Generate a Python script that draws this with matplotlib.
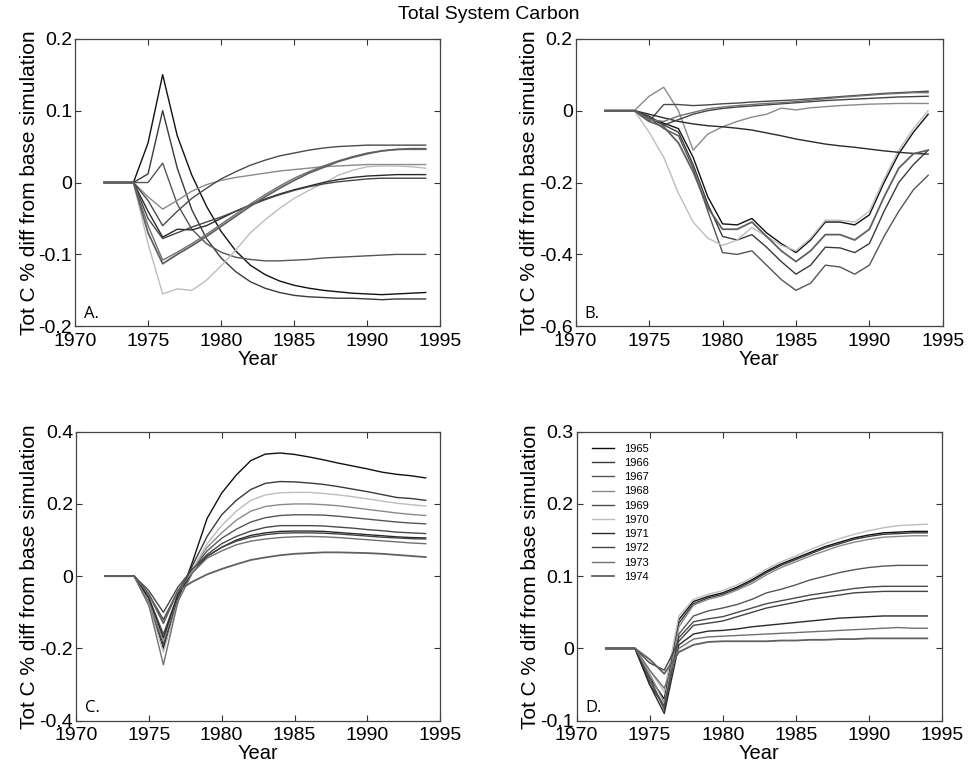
import matplotlib
matplotlib.use("Agg")
import matplotlib.pyplot as plt
from matplotlib.ticker import FuncFormatter

plt.rcParams['font.family'] = ['Liberation Sans', 'DejaVu Sans']
plt.rcParams['axes.unicode_minus'] = False

# ------------------------------
# Data
# ------------------------------
years = list(range(1972, 1995))
run_labels = ['1965', '1966', '1967', '1968', '1969', '1970', '1971', '1972', '1973', '1974']
run_colors = ['#111111', '#3a3a3a', '#555555', '#8a8a8a', '#4a4a4a',
              '#bdbdbd', '#2a2a2a', '#444444', '#707070', '#606060']

panel_a = [
    [0, 0, 0, 0.055, 0.15, 0.065, 0.01, -0.033, -0.068, -0.095, -0.115, -0.128, -0.137, -0.143, -0.147, -0.15, -0.152, -0.154, -0.155, -0.156, -0.155, -0.154, -0.153],
    [0, 0, 0, 0.012, 0.1, 0.02, -0.038, -0.078, -0.105, -0.124, -0.138, -0.147, -0.153, -0.157, -0.159, -0.16, -0.161, -0.161, -0.162, -0.163, -0.162, -0.162, -0.162],
    [0, 0, 0, 0.0, 0.027, -0.03, -0.065, -0.085, -0.097, -0.104, -0.107, -0.109, -0.109, -0.108, -0.107, -0.105, -0.104, -0.103, -0.102, -0.101, -0.1, -0.1, -0.1],
    [0, 0, 0, -0.02, -0.037, -0.025, -0.012, -0.003, 0.003, 0.007, 0.01, 0.013, 0.016, 0.018, 0.02, 0.022, 0.023, 0.024, 0.025, 0.025, 0.025, 0.025, 0.025],
    [0, 0, 0, -0.025, -0.06, -0.04, -0.022, -0.008, 0.005, 0.015, 0.024, 0.031, 0.037, 0.041, 0.045, 0.048, 0.05, 0.051, 0.052, 0.052, 0.052, 0.052, 0.052],
    [0, 0, 0, -0.085, -0.155, -0.148, -0.15, -0.136, -0.116, -0.094, -0.07, -0.052, -0.036, -0.022, -0.011, -0.001, 0.01, 0.017, 0.022, 0.023, 0.023, 0.022, 0.02],
    [0, 0, 0, -0.04, -0.076, -0.065, -0.066, -0.06, -0.05, -0.04, -0.031, -0.023, -0.016, -0.01, -0.005, 0.0, 0.004, 0.007, 0.009, 0.01, 0.011, 0.011, 0.011],
    [0, 0, 0, -0.05, -0.078, -0.07, -0.062, -0.055, -0.048, -0.04, -0.032, -0.024, -0.017, -0.011, -0.006, -0.002, 0.001, 0.003, 0.005, 0.006, 0.006, 0.006, 0.006],
    [0, 0, 0, -0.06, -0.108, -0.097, -0.085, -0.072, -0.058, -0.044, -0.03, -0.017, -0.005, 0.006, 0.015, 0.023, 0.03, 0.036, 0.041, 0.044, 0.046, 0.046, 0.046],
    [0, 0, 0, -0.07, -0.113, -0.1, -0.088, -0.075, -0.061, -0.047, -0.033, -0.02, -0.008, 0.003, 0.013, 0.021, 0.029, 0.035, 0.04, 0.044, 0.046, 0.047, 0.047],
]

panel_b = [
    [0, 0, 0, -0.02, -0.035, -0.05, -0.13, -0.24, -0.315, -0.318, -0.3, -0.34, -0.37, -0.395, -0.36, -0.31, -0.31, -0.318, -0.29, -0.2, -0.12, -0.06, -0.01],
    [0, 0, 0, -0.02, -0.04, -0.06, -0.15, -0.26, -0.35, -0.36, -0.345, -0.38, -0.42, -0.455, -0.43, -0.38, -0.382, -0.395, -0.37, -0.28, -0.2, -0.15, -0.11],
    [0, 0, 0, -0.02, -0.05, -0.07, -0.16, -0.28, -0.395, -0.4, -0.39, -0.43, -0.47, -0.5, -0.48, -0.43, -0.435, -0.455, -0.43, -0.35, -0.28, -0.22, -0.18],
    [0, 0, 0, 0.04, 0.065, 0.0, -0.11, -0.065, -0.045, -0.03, -0.018, -0.01, 0.007, 0.002, 0.008, 0.011, 0.014, 0.016, 0.018, 0.019, 0.02, 0.02, 0.02],
    [0, 0, 0, -0.03, 0.017, 0.017, 0.014, 0.016, 0.019, 0.021, 0.024, 0.026, 0.028, 0.03, 0.033, 0.036, 0.039, 0.042, 0.045, 0.048, 0.05, 0.052, 0.054],
    [0, 0, 0, -0.06, -0.13, -0.23, -0.31, -0.355, -0.375, -0.36, -0.325, -0.35, -0.375, -0.39, -0.355, -0.305, -0.305, -0.31, -0.28, -0.19, -0.11, -0.05, 0.0],
    [0, 0, 0, -0.01, -0.02, -0.03, -0.037, -0.042, -0.045, -0.049, -0.054, -0.062, -0.07, -0.079, -0.086, -0.093, -0.098, -0.102, -0.107, -0.112, -0.116, -0.119, -0.121],
    [0, 0, 0, -0.015, -0.04, -0.025, -0.01, 0.0, 0.006, 0.01, 0.013, 0.016, 0.019, 0.022, 0.025, 0.028, 0.03, 0.032, 0.034, 0.036, 0.038, 0.039, 0.04],
    [0, 0, 0, -0.025, -0.03, -0.015, -0.005, 0.005, 0.01, 0.014, 0.017, 0.02, 0.022, 0.025, 0.029, 0.033, 0.037, 0.04, 0.043, 0.046, 0.048, 0.05, 0.05],
    [0, 0, 0, -0.03, -0.045, -0.09, -0.17, -0.27, -0.33, -0.33, -0.31, -0.35, -0.39, -0.42, -0.39, -0.345, -0.345, -0.36, -0.33, -0.24, -0.16, -0.12, -0.11],
]

panel_c = [
    [0, 0, 0, -0.08, -0.2, -0.07, 0.04, 0.16, 0.23, 0.28, 0.32, 0.338, 0.341, 0.337, 0.33, 0.322, 0.313, 0.305, 0.297, 0.288, 0.282, 0.278, 0.272],
    [0, 0, 0, -0.07, -0.19, -0.06, 0.03, 0.11, 0.17, 0.21, 0.24, 0.257, 0.262, 0.261, 0.258, 0.254, 0.248, 0.241, 0.234, 0.226, 0.218, 0.215, 0.21],
    [0, 0, 0, -0.06, -0.16, -0.05, 0.02, 0.07, 0.105, 0.13, 0.15, 0.162, 0.168, 0.17, 0.17, 0.169, 0.166, 0.162, 0.158, 0.154, 0.15, 0.147, 0.145],
    [0, 0, 0, -0.07, -0.18, -0.05, 0.02, 0.08, 0.12, 0.155, 0.18, 0.193, 0.198, 0.2, 0.2, 0.198, 0.195, 0.19, 0.185, 0.18, 0.175, 0.171, 0.168],
    [0, 0, 0, -0.05, -0.12, -0.04, 0.02, 0.06, 0.09, 0.11, 0.125, 0.135, 0.14, 0.14, 0.14, 0.139, 0.136, 0.133, 0.129, 0.126, 0.122, 0.12, 0.118],
    [0, 0, 0, -0.08, -0.21, -0.07, 0.02, 0.09, 0.14, 0.18, 0.21, 0.225, 0.231, 0.232, 0.232, 0.229, 0.225, 0.22, 0.214, 0.208, 0.202, 0.198, 0.194],
    [0, 0, 0, -0.06, -0.17, -0.05, 0.01, 0.055, 0.08, 0.1, 0.113, 0.12, 0.124, 0.125, 0.125, 0.124, 0.121, 0.118, 0.115, 0.112, 0.109, 0.107, 0.106],
    [0, 0, 0, -0.04, -0.1, -0.03, 0.02, 0.055, 0.08, 0.097, 0.108, 0.115, 0.119, 0.12, 0.12, 0.119, 0.117, 0.114, 0.111, 0.108, 0.106, 0.104, 0.103],
    [0, 0, 0, -0.08, -0.245, -0.07, 0.01, 0.05, 0.07, 0.087, 0.097, 0.103, 0.107, 0.109, 0.11, 0.109, 0.107, 0.104, 0.101, 0.098, 0.095, 0.092, 0.09],
    [0, 0, 0, -0.05, -0.13, -0.04, -0.015, 0.005, 0.02, 0.033, 0.045, 0.052, 0.058, 0.062, 0.064, 0.066, 0.066, 0.065, 0.064, 0.062, 0.059, 0.056, 0.053],
]

panel_d = [
    [0, 0, 0, -0.04, -0.07, 0.04, 0.065, 0.072, 0.077, 0.085, 0.095, 0.107, 0.117, 0.125, 0.133, 0.141, 0.147, 0.153, 0.157, 0.16, 0.161, 0.162, 0.162],
    [0, 0, 0, -0.05, -0.08, 0.035, 0.062, 0.07, 0.075, 0.083, 0.093, 0.105, 0.115, 0.123, 0.131, 0.139, 0.145, 0.151, 0.155, 0.158, 0.159, 0.16, 0.16],
    [0, 0, 0, -0.04, -0.085, 0.02, 0.045, 0.052, 0.056, 0.061, 0.068, 0.077, 0.082, 0.088, 0.095, 0.1, 0.105, 0.109, 0.112, 0.114, 0.115, 0.115, 0.115],
    [0, 0, 0, -0.035, -0.075, 0.03, 0.06, 0.068, 0.073, 0.081, 0.09, 0.102, 0.112, 0.12, 0.128, 0.135, 0.142, 0.147, 0.151, 0.154, 0.155, 0.156, 0.156],
    [0, 0, 0, -0.045, -0.08, 0.015, 0.037, 0.041, 0.044, 0.05, 0.056, 0.062, 0.066, 0.07, 0.074, 0.077, 0.08, 0.083, 0.085, 0.086, 0.086, 0.086, 0.086],
    [0, 0, 0, -0.03, -0.06, 0.045, 0.068, 0.075, 0.08, 0.088, 0.098, 0.11, 0.12, 0.128, 0.137, 0.145, 0.152, 0.158, 0.163, 0.167, 0.17, 0.171, 0.172],
    [0, 0, 0, -0.05, -0.09, 0.005, 0.02, 0.024, 0.025, 0.027, 0.03, 0.032, 0.034, 0.036, 0.038, 0.04, 0.042, 0.043, 0.044, 0.045, 0.045, 0.045, 0.045],
    [0, 0, 0, -0.02, -0.03, 0.01, 0.032, 0.035, 0.038, 0.044, 0.05, 0.056, 0.06, 0.064, 0.068, 0.071, 0.074, 0.077, 0.078, 0.079, 0.079, 0.079, 0.079],
    [0, 0, 0, -0.03, -0.055, 0.0, 0.013, 0.016, 0.017, 0.018, 0.019, 0.02, 0.021, 0.022, 0.023, 0.024, 0.025, 0.026, 0.027, 0.028, 0.029, 0.028, 0.028],
    [0, 0, 0, -0.015, -0.035, -0.005, 0.005, 0.009, 0.01, 0.01, 0.01, 0.01, 0.011, 0.011, 0.012, 0.012, 0.013, 0.013, 0.014, 0.014, 0.014, 0.014, 0.014],
]

panel_letters = ['A.', 'B.', 'C.', 'D.']
panel_ylims = [(-0.2, 0.2), (-0.6, 0.2), (-0.4, 0.4), (-0.1, 0.3)]
panel_yticks = [[-0.2, -0.1, 0, 0.1, 0.2],
                [-0.6, -0.4, -0.2, 0, 0.2],
                [-0.4, -0.2, 0, 0.2, 0.4],
                [-0.1, 0, 0.1, 0.2, 0.3]]
xticks = [1970, 1975, 1980, 1985, 1990, 1995]

# ------------------------------
# Figure
# ------------------------------
fig = plt.figure(figsize=(9.74, 7.75), dpi=100)
rects = [[0.077, 0.579, 0.375, 0.371],
         [0.591, 0.579, 0.377, 0.371],
         [0.078, 0.070, 0.374, 0.373],
         [0.592, 0.070, 0.375, 0.373]]

all_panels = [panel_a, panel_b, panel_c, panel_d]
fmt = FuncFormatter(lambda v, p: '%g' % round(v, 3))

for i, series in enumerate(all_panels):
    ax = fig.add_axes(rects[i])
    for j, vals in enumerate(series):
        lw = 1.3 if j == 9 else 1.0
        ax.plot(years, vals, color=run_colors[j], linewidth=lw, label=run_labels[j])
    ax.set_xlim(1970, 1995)
    ax.set_ylim(*panel_ylims[i])
    ax.set_xticks(xticks)
    ax.set_yticks(panel_yticks[i])
    ax.yaxis.set_major_formatter(fmt)
    ax.tick_params(direction='in', top=True, right=True, length=4,
                   labelsize=14, pad=2, color='#333333')
    ax.tick_params(axis='x', pad=4.5)
    for s in ax.spines.values():
        s.set_color('#444444')
        s.set_linewidth(0.9)
    ax.set_xlabel('Year', fontsize=14.5, labelpad=0)
    ax.set_ylabel('Tot C % diff from base simulation', fontsize=15, labelpad=0)
    ax.text(0.025, 0.015, panel_letters[i], transform=ax.transAxes,
            fontsize=12, family='Open Sans', va='bottom', ha='left')
    if i == 3:
        ax.legend(loc='upper left', frameon=False, fontsize=8,
                  handlelength=2.0, labelspacing=0.38, handletextpad=0.9,
                  borderaxespad=0.3, bbox_to_anchor=(0.02, 0.985))

fig.text(0.502, 0.981, 'Total System Carbon', ha='center', va='center', fontsize=14)

plt.savefig('out.png', dpi=100)
plt.close()
